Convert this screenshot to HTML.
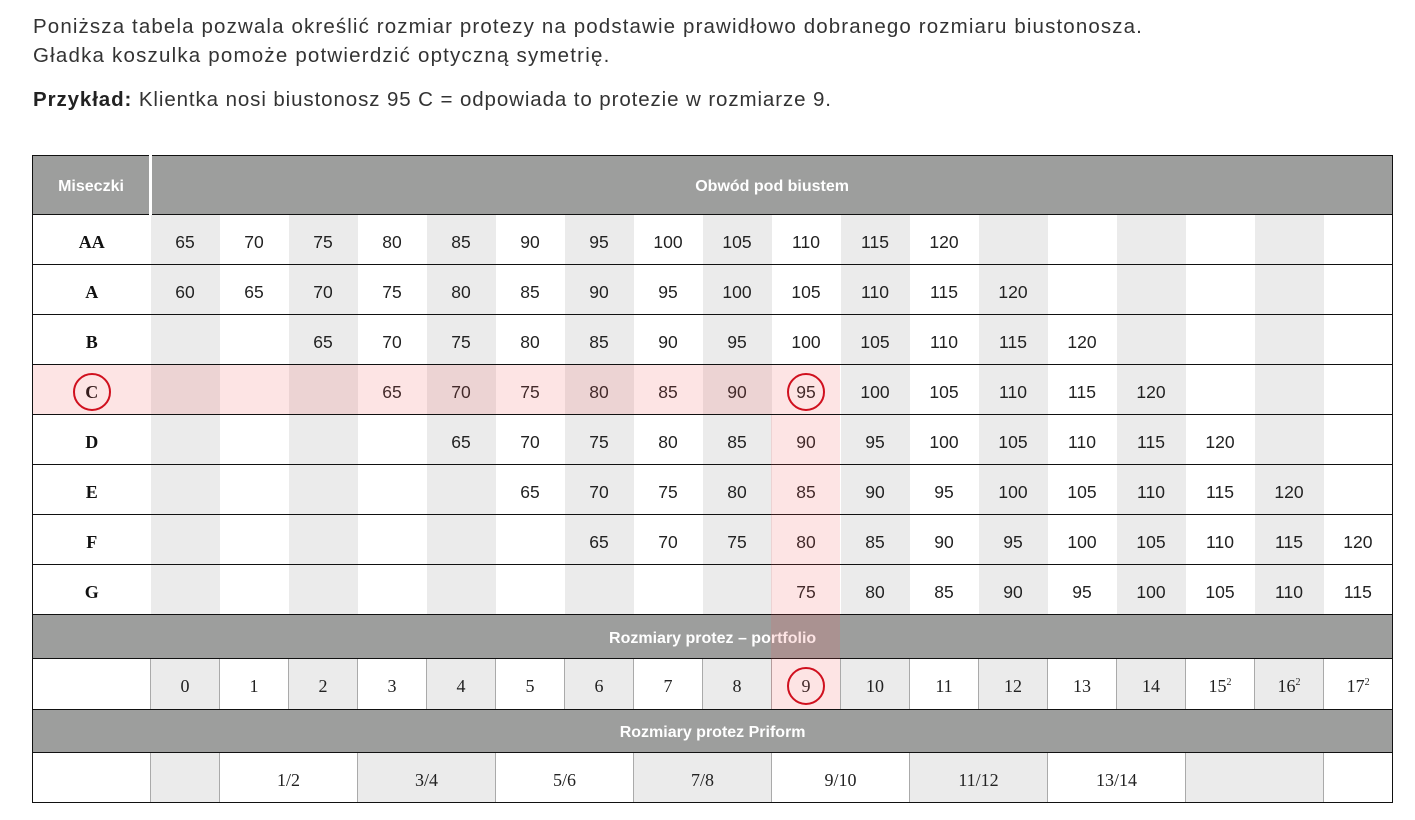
<!DOCTYPE html>
<html><head><meta charset="utf-8"><style>
body{margin:0;width:1415px;height:820px;background:#fff;position:relative;font-family:"Liberation Sans",sans-serif;color:#333;overflow:hidden}
.t{position:absolute;left:33px;font-size:20.5px;letter-spacing:0.9px;color:#333;white-space:nowrap}
table{position:absolute;left:32px;top:155px;border-collapse:collapse;table-layout:fixed;width:1361px}
td{padding:5px 0 0 0;text-align:center;font-size:17.5px;color:#222;border-top:1px solid #111;border-bottom:1px solid #111}
table{border:1px solid #111}
.h td{background:#9d9e9d;color:#fff;font-weight:bold;font-size:16px;padding-top:4px}
.lab{font-family:"Liberation Serif",serif;font-weight:bold;font-size:18px;color:#111}
.p td{font-family:"Liberation Serif",serif;font-size:18px;border-left:1px solid #aaa}
.g{background:#ebebeb}
.ov{position:absolute;background:rgba(245,90,90,0.16)}
.c{position:absolute;width:38px;height:38px;border:2px solid #d0101e;border-radius:50%;box-sizing:border-box}
sup{font-size:10px}
</style></head><body>
<div class="t" style="top:15px;letter-spacing:1.13px">Poniższa tabela pozwala określić rozmiar protezy na podstawie prawidłowo dobranego rozmiaru biustonosza.</div>
<div class="t" style="top:44px;letter-spacing:1.2px">Gładka koszulka pomoże potwierdzić optyczną symetrię.</div>
<div class="t" style="top:88px"><b style="color:#222">Przykład:</b> Klientka nosi biustonosz 95 C = odpowiada to protezie w rozmiarze 9.</div>
<table>
<colgroup><col style="width:118px"><col class="g" style="width:69px"><col style="width:69px"><col class="g" style="width:69px"><col style="width:69px"><col class="g" style="width:69px"><col style="width:69px"><col class="g" style="width:69px"><col style="width:69px"><col class="g" style="width:69px"><col style="width:69px"><col class="g" style="width:69px"><col style="width:69px"><col class="g" style="width:69px"><col style="width:69px"><col class="g" style="width:69px"><col style="width:69px"><col class="g" style="width:69px"><col style="width:69px"></colgroup>
<tr class="h" style="height:59px"><td style="border-right:3px solid #fff">Miseczki</td><td colspan="18">Obwód pod biustem</td></tr>
<tr style="height:50px"><td class="lab">AA</td><td>65</td><td>70</td><td>75</td><td>80</td><td>85</td><td>90</td><td>95</td><td>100</td><td>105</td><td>110</td><td>115</td><td>120</td><td></td><td></td><td></td><td></td><td></td><td></td></tr>
<tr style="height:50px"><td class="lab">A</td><td>60</td><td>65</td><td>70</td><td>75</td><td>80</td><td>85</td><td>90</td><td>95</td><td>100</td><td>105</td><td>110</td><td>115</td><td>120</td><td></td><td></td><td></td><td></td><td></td></tr>
<tr style="height:50px"><td class="lab">B</td><td></td><td></td><td>65</td><td>70</td><td>75</td><td>80</td><td>85</td><td>90</td><td>95</td><td>100</td><td>105</td><td>110</td><td>115</td><td>120</td><td></td><td></td><td></td><td></td></tr>
<tr style="height:50px"><td class="lab">C</td><td></td><td></td><td></td><td>65</td><td>70</td><td>75</td><td>80</td><td>85</td><td>90</td><td>95</td><td>100</td><td>105</td><td>110</td><td>115</td><td>120</td><td></td><td></td><td></td></tr>
<tr style="height:50px"><td class="lab">D</td><td></td><td></td><td></td><td></td><td>65</td><td>70</td><td>75</td><td>80</td><td>85</td><td>90</td><td>95</td><td>100</td><td>105</td><td>110</td><td>115</td><td>120</td><td></td><td></td></tr>
<tr style="height:50px"><td class="lab">E</td><td></td><td></td><td></td><td></td><td></td><td>65</td><td>70</td><td>75</td><td>80</td><td>85</td><td>90</td><td>95</td><td>100</td><td>105</td><td>110</td><td>115</td><td>120</td><td></td></tr>
<tr style="height:50px"><td class="lab">F</td><td></td><td></td><td></td><td></td><td></td><td></td><td>65</td><td>70</td><td>75</td><td>80</td><td>85</td><td>90</td><td>95</td><td>100</td><td>105</td><td>110</td><td>115</td><td>120</td></tr>
<tr style="height:50px"><td class="lab">G</td><td></td><td></td><td></td><td></td><td></td><td></td><td></td><td></td><td></td><td>75</td><td>80</td><td>85</td><td>90</td><td>95</td><td>100</td><td>105</td><td>110</td><td>115</td></tr>
<tr class="h" style="height:44px"><td colspan="19">Rozmiary protez – portfolio</td></tr>
<tr class="p" style="height:51px"><td style="border-left:none"></td><td>0</td><td>1</td><td>2</td><td>3</td><td>4</td><td>5</td><td>6</td><td>7</td><td>8</td><td>9</td><td>10</td><td>11</td><td>12</td><td>13</td><td>14</td><td>15<sup>2</sup></td><td>16<sup>2</sup></td><td>17<sup>2</sup></td></tr>
<tr class="h" style="height:43px"><td colspan="19">Rozmiary protez Priform</td></tr>
<tr class="p" style="height:50px"><td style="border-left:none;background:#fff"></td><td class="g"></td><td colspan="2" style="background:#fff">1/2</td><td colspan="2" class="g">3/4</td><td colspan="2" style="background:#fff">5/6</td><td colspan="2" class="g">7/8</td><td colspan="2" style="background:#fff">9/10</td><td colspan="2" class="g">11/12</td><td colspan="2" style="background:#fff">13/14</td><td colspan="2" class="g"></td><td style="background:#fff"></td></tr>
</table>
<div class="ov" style="left:33px;top:365px;width:807px;height:49px"></div>
<div class="ov" style="left:771px;top:415px;width:69px;height:294px"></div>
<div class="c" style="left:73px;top:373px"></div>
<div class="c" style="left:787px;top:373px"></div>
<div class="c" style="left:787px;top:667px"></div>
</body></html>
